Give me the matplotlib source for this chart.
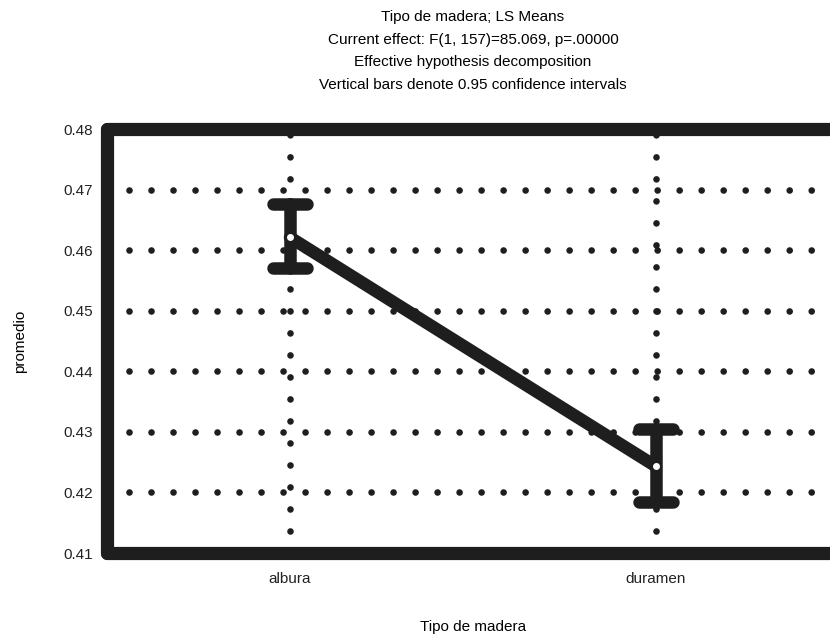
import numpy as np
import matplotlib.pyplot as plt

plt.rcParams['font.family'] = ['Liberation Sans', 'DejaVu Sans']

categories = ['albura', 'duramen']
means = [0.4621, 0.4243]
ci_low = [0.4570, 0.4184]
ci_high = [0.4676, 0.4305]
yticks = [0.41, 0.42, 0.43, 0.44, 0.45, 0.46, 0.47, 0.48]

title = ("Tipo de madera; LS Means\n"
         "Current effect: F(1, 157)=85.069, p=.00000\n"
         "Effective hypothesis decomposition\n"
         "Vertical bars denote 0.95 confidence intervals")

fig = plt.figure(figsize=(8.3, 6.34), dpi=100)
ax = fig.add_axes([107 / 830, 81 / 634, 732 / 830, 424 / 634])

x = np.arange(len(categories))
ink = '#1e1e1e'

# dotted grid
grid_kw = dict(color=ink, lw=4.8, linestyle=(0, (0.001, 3.3)),
               dash_capstyle='round', zorder=1)
for y in yticks[1:-1]:
    ax.axhline(y, **grid_kw)
for xi in x:
    ax.axvline(xi, **grid_kw)

# mean line
ax.plot(x, means, color=ink, lw=9, solid_capstyle='round', zorder=3)

# confidence interval bars
ax.vlines(x, ci_low, ci_high, color=ink, lw=9, capstyle='round', zorder=3)
cap = 0.047
ax.hlines(ci_low, x - cap, x + cap, color=ink, lw=9, capstyle='round', zorder=3)
ax.hlines(ci_high, x - cap, x + cap, color=ink, lw=9, capstyle='round', zorder=3)

ax.plot(x, means, 'o', ms=4, mfc='white', mec='white', zorder=4)

ax.set_xlim(-0.5, 1.5)
ax.set_ylim(0.41, 0.48)
ax.set_yticks(yticks)
ax.set_yticklabels([f'{v:.2f}' for v in yticks])
ax.set_xticks(x)
ax.set_xticklabels(categories)
ax.tick_params(length=0, labelsize=11, colors='#222222')
ax.tick_params(axis='x', pad=14)
ax.tick_params(axis='y', pad=10)

for s in ax.spines.values():
    s.set_linewidth(9.5)
    s.set_color(ink)
    s.set_capstyle('round')
    s.set_zorder(5)

ax.set_ylabel('promedio', fontsize=11, labelpad=26)
ax.set_xlabel('Tipo de madera', fontsize=11, labelpad=24)
ax.set_title(title, fontsize=11, linespacing=1.77, pad=29)

fig.savefig('out.png', dpi=100)
